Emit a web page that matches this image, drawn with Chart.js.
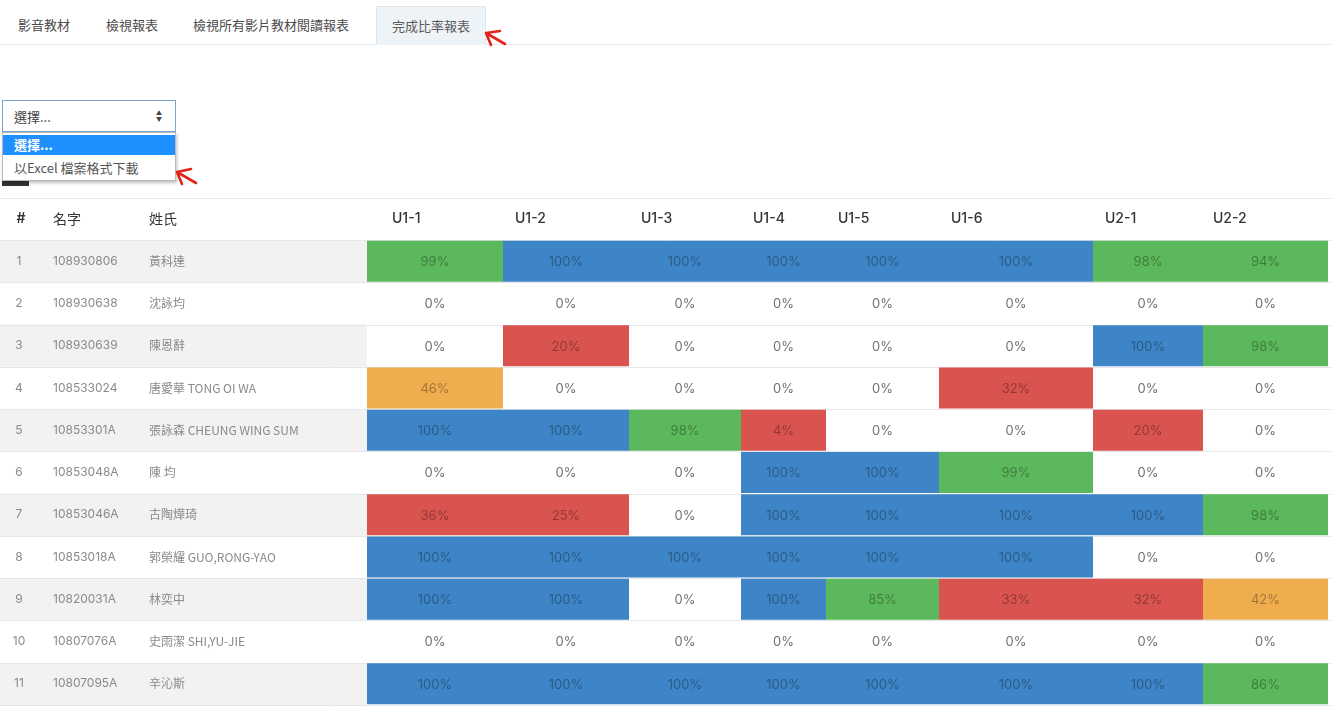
<!DOCTYPE html>
<html>
<head>
<meta charset="utf-8">
<script src="https://cdn.jsdelivr.net/npm/chart.js@4/dist/chart.umd.min.js"></script>
<style>
  html,body{margin:0;padding:0;background:#fff;width:1331px;height:707px;overflow:hidden;
    font-family:"Noto Sans CJK TC","Noto Sans",sans-serif;}
  .tabbar{position:absolute;left:0;top:0;width:1331px;height:44px;border-bottom:1px solid #e3e6ea;}
  .tab{position:absolute;top:15px;font-size:13px;color:#4a4a4a;line-height:20px;}
  .tab.active{top:6px;height:38px;line-height:38px;padding:0 15px;background:#eef3f7;
    border:1px solid #e2e6ea;border-bottom:none;color:#5a5a5a;}
  .select{position:absolute;left:2px;top:100px;width:174px;height:32px;border:1px solid #7aa3cf;
    box-sizing:border-box;font-size:13px;color:#444;}
  .select .txt{position:absolute;left:11px;top:6px;}
  .select .car{position:absolute;left:153px;top:9px;font-size:6px;color:#444;line-height:6px;}
  .list{position:absolute;left:2px;top:132px;width:174px;height:49px;background:#fff;
    border:1px solid #b9b9b9;box-sizing:border-box;box-shadow:1px 2px 3px rgba(0,0,0,0.25);}
  .opt{position:absolute;left:0;width:172px;height:20px;font-size:13px;line-height:20px;padding-left:11px;box-sizing:border-box;}
  .opt.sel{top:2px;background:#1e90ff;color:#fff;font-weight:bold;}
  .opt.o2{top:25px;color:#555;}
  .blk{position:absolute;left:2px;top:181px;width:27px;height:5px;background:#333;}
  #wrap{position:absolute;left:0;top:198px;width:1331px;height:509px;}
  svg{position:absolute;left:0;top:0;}
</style>
</head>
<body>
<div class="tabbar"></div>
<div class="tab" style="left:18px">影音教材</div>
<div class="tab" style="left:106px">檢視報表</div>
<div class="tab" style="left:193px">檢視所有影片教材閱讀報表</div>
<div class="tab active" style="left:376px">完成比率報表</div>

<div class="blk"></div>
<div class="select"><span class="txt">選擇...</span><span class="car">▲<br>▼</span></div>
<div class="list"><div class="opt sel">選擇...</div><div class="opt o2">以Excel 檔案格式下載</div></div>

<div id="wrap"><canvas id="c" width="1331" height="509"></canvas></div>

<svg width="1331" height="707">
  <g stroke="#e3241b" stroke-width="2.6" fill="none" stroke-linecap="round">
    <path d="M505,44 L486,33 M486,33 L500,31 M486,33 L491,45"/>
    <path d="M196,183 L177,172 M177,172 L191,169 M177,172 L182,184"/>
  </g>
</svg>

<script>
// ---- data ----
const COLUMNS = ['U1-1','U1-2','U1-3','U1-4','U1-5','U1-6','U2-1','U2-2'];
const ROW_NO = ['1','2','3','4','5','6','7','8','9','10','11'];
const STUDENT_IDS = ['108930806','108930638','108930639','108533024','10853301A','10853048A',
                     '10853046A','10853018A','10820031A','10807076A','10807095A'];
const NAMES = ['黃科達','沈詠均','陳恩辭','唐愛華 TONG OI WA','張詠森 CHEUNG WING SUM','陳 均',
               '古陶燁琦','郭榮耀 GUO,RONG-YAO','林奕中','史雨潔 SHI,YU-JIE','辛沁斯'];
const U1_1 = [99,0,0,46,100,0,36,100,100,0,100];
const U1_2 = [100,0,20,0,100,0,25,100,100,0,100];
const U1_3 = [100,0,0,0,98,0,0,100,0,0,100];
const U1_4 = [100,0,0,0,4,100,100,100,100,0,100];
const U1_5 = [100,0,0,0,0,100,100,100,85,0,100];
const U1_6 = [100,0,0,32,0,99,100,100,33,0,100];
const U2_1 = [98,0,100,0,20,0,100,0,32,0,100];
const U2_2 = [94,0,98,0,0,0,98,0,42,0,86];
const SERIES = [U1_1,U1_2,U1_3,U1_4,U1_5,U1_6,U2_1,U2_2];

// ---- layout (page pixels) ----
const COL_EDGES = [367,503,629,741,826,939,1093,1203,1328];
const HEADER_X = [392,515,641,753,838,951,1105,1213];
const LATIN = '"Inter","Noto Sans CJK TC",sans-serif';

function cellColor(v){
  if (v >= 100) return '#3d85c6';
  if (v >= 80) return '#5cb85c';
  if (v >= 40) return '#f0ad4e';
  if (v > 0) return '#d9534f';
  return 'rgba(0,0,0,0)';
}

const datasets = SERIES.map((vals, ci) => ({
  label: COLUMNS[ci],
  data: vals.map(() => [COL_EDGES[ci], COL_EDGES[ci+1]]),
  backgroundColor: ctx => cellColor(vals[ctx.dataIndex]),
  borderWidth: 0,
  barPercentage: 1,
  categoryPercentage: 0.97
}));

const tablePlugin = {
  id: 'table',
  beforeDatasetsDraw(chart){
    const ctx = chart.ctx, y = chart.scales.y, area = chart.chartArea;
    const rh = (area.bottom - area.top) / ROW_NO.length;
    ctx.save();
    ROW_NO.forEach((r, i) => {
      const cy = y.getPixelForValue(i);
      if (i % 2 === 0) { ctx.fillStyle = '#f2f2f2'; ctx.fillRect(0, cy - rh/2, COL_EDGES[0], rh); }
    });
    ctx.strokeStyle = '#e4e6e9'; ctx.lineWidth = 1;
    ctx.beginPath(); ctx.moveTo(0, 0.5); ctx.lineTo(1331, 0.5); ctx.stroke();
    for (let i = 0; i <= ROW_NO.length; i++) {
      const yy = Math.round(area.top + i*rh) + 0.5;
      ctx.beginPath(); ctx.moveTo(0, yy); ctx.lineTo(1331, yy); ctx.stroke();
    }
    ctx.textBaseline = 'middle';
    ctx.fillStyle = '#333';
    ctx.font = '600 14px ' + LATIN;
    ctx.textAlign = 'center'; ctx.fillText('#', 21, area.top/2);
    ctx.textAlign = 'left';
    ctx.font = '14px "Noto Sans CJK TC",sans-serif';
    ctx.fillText('名字', 53, area.top/2);
    ctx.fillText('姓氏', 149, area.top/2);
    ctx.font = '500 14px ' + LATIN;
    COLUMNS.forEach((c, i) => ctx.fillText(c, HEADER_X[i], area.top/2));
    ROW_NO.forEach((r, i) => {
      const cy = y.getPixelForValue(i);
      ctx.fillStyle = '#8a8a8a';
      ctx.font = '12px ' + LATIN;
      ctx.textAlign = 'center'; ctx.fillText(r, 19, cy);
      ctx.textAlign = 'left';
      ctx.fillText(STUDENT_IDS[i], 53, cy);
      ctx.font = '12px "Noto Sans CJK TC",sans-serif';
      ctx.fillText(NAMES[i], 149, cy);
    });
    ctx.restore();
  },
  afterDatasetsDraw(chart){
    const ctx = chart.ctx;
    ctx.save();
    ctx.textAlign = 'center'; ctx.textBaseline = 'middle';
    ctx.font = '13px ' + LATIN;
    chart.data.datasets.forEach((ds, di) => {
      const meta = chart.getDatasetMeta(di);
      meta.data.forEach((bar, i) => {
        const v = SERIES[di][i];
        const cx = (bar.x + bar.base) / 2;
        ctx.fillStyle = v > 0 ? 'rgba(0,0,0,0.33)' : '#707070';
        ctx.fillText(v + '%', cx, bar.y + 1);
      });
    });
    ctx.restore();
  }
};

new Chart(document.getElementById('c'), {
  type: 'bar',
  data: { labels: ROW_NO, datasets },
  options: {
    indexAxis: 'y',
    responsive: false,
    animation: false,
    layout: { padding: { top: 42, bottom: 2, left: 0, right: 0 } },
    scales: {
      x: { type: 'linear', min: 0, max: 1331, display: false, stacked: false },
      y: { display: false, stacked: true }
    },
    plugins: { legend: { display: false }, tooltip: { enabled: false } }
  },
  plugins: [tablePlugin]
});
</script>
</body>
</html>
